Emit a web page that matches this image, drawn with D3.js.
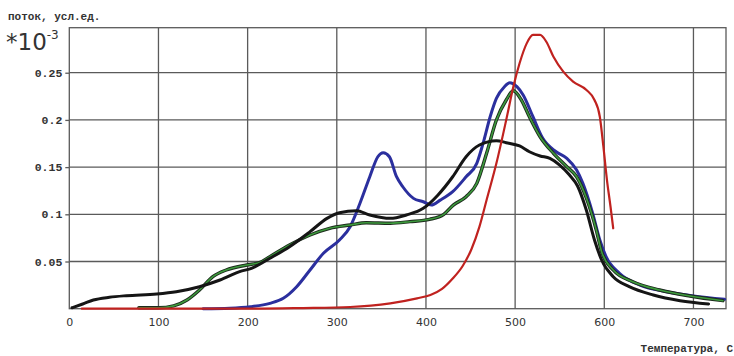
<!DOCTYPE html>
<html>
<head>
<meta charset="utf-8">
<script src="https://cdn.jsdelivr.net/npm/d3@7"></script>
<style>
  body { margin: 0; background: #fff; }
  svg { display: block; }
</style>
</head>
<body>
<svg id="chart"></svg>
<script>
// размеры окна
const svg_width = 734, svg_height = 356;

// оси
const xTicks = [0, 100, 200, 300, 400, 500, 600, 700];
const yTicks = [0.05, 0.1, 0.15, 0.2, 0.25];
const yTickLabels = ["0.05", "0.1", "0.15", "0.2", "0.25"];

// черная кривая
const blackT = [3, 15, 27, 45, 64, 98, 120, 146, 169, 191, 205, 225, 247, 270, 289, 303, 322, 337, 360, 378, 397, 413, 430, 445, 460, 479, 490, 505, 516, 528, 539, 550, 561, 570, 580, 589, 597, 610, 628, 655, 685, 717];
const blackF = [0.001, 0.005, 0.0092, 0.0121, 0.0138, 0.0156, 0.018, 0.0233, 0.0304, 0.0392, 0.043, 0.0534, 0.0657, 0.0816, 0.0957, 0.1017, 0.1038, 0.0993, 0.0957, 0.0993, 0.1063, 0.12, 0.1398, 0.161, 0.1734, 0.178, 0.1759, 0.1724, 0.1663, 0.1618, 0.1593, 0.1522, 0.1416, 0.13, 0.104, 0.0728, 0.0516, 0.0339, 0.0233, 0.0145, 0.0085, 0.005];

// синяя кривая
const blueT = [150, 180, 203, 225, 240, 255, 270, 285, 303, 315, 326, 337, 346, 352, 359, 367, 374, 386, 397, 406, 416, 430, 445, 457, 464, 472, 479, 488, 494, 502, 509, 520, 531, 546, 558, 569, 576, 587, 595, 602, 617, 640, 670, 700, 735];
const blueF = [0, 0.0005, 0.002, 0.0057, 0.011, 0.0233, 0.041, 0.0587, 0.0728, 0.0869, 0.1117, 0.1398, 0.161, 0.1653, 0.161, 0.1398, 0.1292, 0.1169, 0.1133, 0.1098, 0.115, 0.124, 0.1398, 0.154, 0.175, 0.2034, 0.2228, 0.2352, 0.2394, 0.2352, 0.2264, 0.2034, 0.1805, 0.1663, 0.1593, 0.1469, 0.1328, 0.101, 0.0728, 0.0551, 0.0375, 0.0251, 0.018, 0.0135, 0.01];

// зеленая кривая
const greenT = [78, 100, 117, 132, 146, 161, 176, 199, 214, 225, 247, 270, 292, 315, 333, 360, 382, 404, 420, 431, 445, 457, 468, 479, 490, 498, 507, 516, 528, 543, 558, 569, 580, 591, 597, 610, 632, 662, 696, 733];
const greenF = [0.001, 0.001, 0.003, 0.0092, 0.0198, 0.0339, 0.041, 0.0463, 0.049, 0.0551, 0.0675, 0.0781, 0.0852, 0.0887, 0.0911, 0.0905, 0.0922, 0.0947, 0.1, 0.11, 0.1186, 0.1328, 0.1646, 0.1999, 0.2211, 0.2309, 0.2211, 0.2034, 0.1822, 0.1646, 0.1504, 0.1398, 0.117, 0.0834, 0.0604, 0.041, 0.0286, 0.0198, 0.0135, 0.0085];

// красная кривая
const redT = [14, 120, 200, 260, 315, 360, 390, 405, 418, 430, 441, 451, 460, 468, 479, 490, 498, 505, 513, 520, 528, 535, 543, 554, 565, 580, 589, 595, 599, 603, 607, 610];
const redF = [0, 0, 0, 0.0007, 0.0018, 0.0057, 0.011, 0.0145, 0.021, 0.032, 0.045, 0.063, 0.0869, 0.1151, 0.154, 0.1999, 0.2352, 0.26, 0.2811, 0.29, 0.29, 0.2828, 0.2669, 0.2511, 0.2405, 0.2317, 0.2211, 0.2034, 0.1716, 0.1363, 0.108, 0.0852];

const svg = d3.select("#chart")
    .attr("width", svg_width)
    .attr("height", svg_height);

// область графика
const plot = { left: 69.3, right: 726, top: 27.7, bottom: 308.7 };

const x = d3.scaleLinear().domain([0, 736.5]).range([plot.left, plot.right]);
const y = d3.scaleLinear().domain([0, 0.2977]).range([plot.bottom, plot.top]);

const gridColor = "#5a5a5a";

// сетка
svg.append("g")
    .selectAll("line")
    .data(xTicks.filter(d => d > 0))
    .join("line")
    .attr("x1", d => x(d)).attr("x2", d => x(d))
    .attr("y1", plot.top).attr("y2", plot.bottom)
    .attr("stroke", gridColor).attr("stroke-width", 1.3);

svg.append("g")
    .selectAll("line")
    .data(yTicks)
    .join("line")
    .attr("x1", plot.left).attr("x2", plot.right)
    .attr("y1", d => y(d)).attr("y2", d => y(d))
    .attr("stroke", gridColor).attr("stroke-width", 1.3);

svg.append("rect")
    .attr("x", plot.left).attr("y", plot.top)
    .attr("width", plot.right - plot.left)
    .attr("height", plot.bottom - plot.top)
    .attr("fill", "none")
    .attr("stroke", gridColor).attr("stroke-width", 1.3);

// ось X
const xAxis = d3.axisBottom(x).tickValues(xTicks).tickSize(0).tickPadding(10);
svg.append("g")
    .attr("transform", `translate(0, ${plot.bottom})`)
    .call(xAxis)
    .call(g => g.select(".domain").remove())
    .selectAll("text")
    .attr("font-family", "DejaVu Sans")
    .attr("font-size", 11)
    .attr("fill", "#333");

// ось Y
const yAxis = d3.axisLeft(y).tickValues(yTicks)
    .tickFormat((d, i) => yTickLabels[i]).tickSize(4).tickPadding(3);
svg.append("g")
    .attr("transform", `translate(${plot.left}, 0)`)
    .call(yAxis)
    .call(g => g.select(".domain").remove())
    .call(g => g.selectAll("line").attr("stroke", gridColor).attr("stroke-width", 1.3))
    .selectAll("text")
    .attr("font-family", "Liberation Mono")
    .attr("font-weight", "bold")
    .attr("font-size", 11.5)
    .attr("fill", "#333");

// подписи
svg.append("text")
    .attr("x", 8).attr("y", 20)
    .attr("font-family", "Liberation Mono")
    .attr("font-weight", "bold")
    .attr("font-size", 11)
    .attr("fill", "#333")
    .text("поток, усл.ед.");

const mult = svg.append("text")
    .attr("x", 6).attr("y", 50)
    .attr("font-family", "DejaVu Sans")
    .attr("font-size", 23)
    .attr("fill", "#333");
mult.append("tspan").text("*10");
mult.append("tspan").attr("dy", -11).attr("font-size", 12).text("-3");

svg.append("text")
    .attr("x", 733).attr("y", 352)
    .attr("text-anchor", "end")
    .attr("font-family", "Liberation Mono")
    .attr("font-weight", "bold")
    .attr("font-size", 11)
    .attr("fill", "#333")
    .text("Температура, С");

// кривые
const line = d3.line()
    .x(d => x(d[0]))
    .y(d => y(d[1]))
    .curve(d3.curveMonotoneX);

function drawSeries(ts, fs, color, width) {
    const pts = ts.map((t, i) => [t, fs[i]]);
    return svg.append("path")
        .attr("d", line(pts))
        .attr("fill", "none")
        .attr("stroke", color)
        .attr("stroke-width", width)
        .attr("stroke-linejoin", "round")
        .attr("stroke-linecap", "round");
}

drawSeries(blueT, blueF, "#2b2f9e", 3);
drawSeries(greenT, greenF, "#1c2a1c", 3.4);
drawSeries(greenT, greenF, "#3d9a3d", 1.6);
drawSeries(blackT, blackF, "#151515", 3);
drawSeries(redT, redF, "#c0221f", 2.2);
</script>
</body>
</html>
